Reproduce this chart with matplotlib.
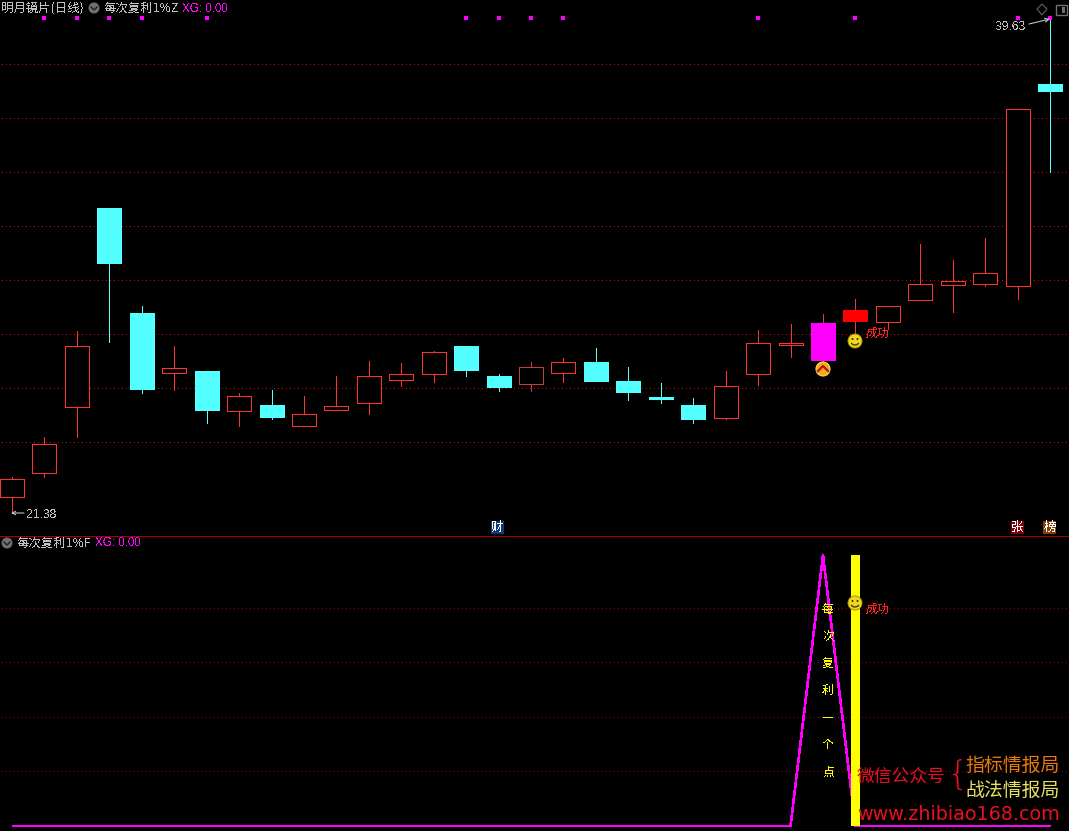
import matplotlib
matplotlib.use('Agg')
import matplotlib.pyplot as plt
import numpy as np
from matplotlib.patches import Rectangle, Circle, Arc, Polygon

plt.rcParams['font.family'] = ['Noto Sans CJK SC', 'DejaVu Sans']

W, H = 1069, 831
SPLIT = 535

# daily candles
opens = [21.97, 22.84, 25.30, 32.65, 28.77, 26.55, 26.63, 25.15, 25.37, 24.59, 25.18,
         25.44, 26.29, 26.51, 27.55, 26.44, 26.15, 26.55, 26.96, 26.26, 25.67, 25.37,
         24.89, 26.51, 27.59, 27.03, 28.47, 28.44, 29.25, 29.80, 29.84, 29.77, 37.23]
closes = [22.65, 23.93, 27.55, 30.62, 25.96, 26.74, 25.18, 25.70, 24.93, 25.04, 25.33,
          26.44, 26.51, 27.33, 26.66, 26.03, 26.77, 26.96, 26.26, 25.85, 25.59, 24.85,
          26.07, 27.66, 27.66, 28.40, 28.88, 29.03, 29.84, 29.95, 30.25, 36.30, 36.97]
highs = [22.71, 24.19, 28.10, 32.65, 29.03, 27.55, 26.63, 25.81, 25.92, 25.70, 26.44,
         26.99, 26.92, 27.36, 27.55, 26.51, 26.96, 27.11, 27.48, 26.77, 26.18, 25.63,
         26.63, 28.14, 28.36, 28.73, 29.29, 29.03, 31.32, 30.73, 31.54, 36.30, 39.63]
lows = [21.38, 22.71, 24.19, 27.70, 25.81, 25.92, 24.70, 24.59, 24.85, 24.59, 25.18,
        25.04, 26.07, 26.22, 26.44, 25.89, 25.89, 26.22, 26.26, 25.55, 25.44, 24.70,
        24.85, 26.11, 27.14, 26.99, 28.03, 28.18, 29.25, 28.80, 29.77, 29.29, 33.98]
dim_candles = [16]
magenta_candles = [25]
solid_red_candles = [26]

grid_prices = [23.97, 25.96, 27.96, 29.95, 31.94, 33.94, 35.93, 37.93]
signal_idx = [1, 2, 3, 4, 6, 14, 15, 16, 17, 23, 26, 31, 32]
signal_price = 39.65

# lower indicator
ind_x = [0, 24, 25, 26, 32]
ind_y = [0, 0, 5, 0, 0]
ind_grid = [1, 2, 3, 4]
bar_idx = 26
bar_val = 5
note_chars = list('每次复利一个点')
note_vals = [4, 3.5, 3, 2.5, 2, 1.5, 1]

RED = '#ff3232'
CYAN = '#54ffff'
MAG = '#ff00ff'
GRAY = '#c0c0c0'

fig = plt.figure(figsize=(W / 100, H / 100), dpi=100, facecolor='black')
ax = fig.add_axes([0, 1 - SPLIT / H, 1, SPLIT / H], facecolor='black')
ax2 = fig.add_axes([0, 0, 1, (H - SPLIT - 1) / H], facecolor='black')

xlim = (-12.0 / 32.44, (W - 12.0) / 32.44)
ax.set_xlim(*xlim)
ax.set_ylim(21.38 - 22 * 0.03694, 21.38 + 513 * 0.03694)
ax2.set_xlim(*xlim)
ax2.set_ylim(-5 / 54, 270 / 54 + 19 / 54)
for a in (ax, ax2):
    a.axis('off')

# dotted grid, one pixel every four
dot_x = np.arange(2, W, 4) / 32.44 + xlim[0]
for g in grid_prices:
    ax.plot(dot_x, [g] * len(dot_x), ',', color='#d80000', zorder=1)
for g in ind_grid:
    ax2.plot(dot_x, [g] * len(dot_x), ',', color='#a80000', zorder=1)

# candles
bw = 24 / 32.44
for i in range(len(opens)):
    o, c, hi, lo = opens[i], closes[i], highs[i], lows[i]
    top, bot = max(o, c), min(o, c)
    if i in magenta_candles:
        col, face = RED, MAG
        edge = MAG
    elif i in solid_red_candles:
        col, face = RED, '#ff0000'
        edge = '#ff0000'
    elif c >= o:
        col, face = RED, 'black'
        edge = RED
        if i in dim_candles:
            col = edge = '#c83c3c'
    else:
        col, face = CYAN, CYAN
        edge = CYAN
    ax.vlines(i, lo, hi, color=col, lw=0.7, zorder=2, antialiased=False)
    ax.add_patch(Rectangle((i - bw / 2, bot), bw, top - bot, facecolor=face, joinstyle='miter',
                           edgecolor=edge, lw=0.7, zorder=3, antialiased=False))

ax.scatter(signal_idx, [signal_price] * len(signal_idx), marker='s', s=5,
           color=MAG, linewidths=0, zorder=4, antialiased=False)


def smiley(a, px, py):
    # a little face drawn in a pixel overlay axes
    a.add_patch(Circle((px, py), 7, facecolor='#f0d820', edgecolor='#a89010', lw=0.7, zorder=6))
    a.add_patch(Circle((px - 2.5, py - 2), 1, facecolor='#403000', lw=0, zorder=7))
    a.add_patch(Circle((px + 2.5, py - 2), 1, facecolor='#403000', lw=0, zorder=7))
    a.add_patch(Arc((px, py + 0.5), 8, 7, theta1=20, theta2=160, color='#403000', lw=0.9, zorder=7))


def px_text(a, px, py, s, size, color, ha='left', aa=False, **kw):
    t = a.text(px, py, s, fontsize=size * 0.72, color=color, ha=ha, va='center', zorder=8, **kw)
    t.set_antialiased(aa)
    return t


# overlay in pixel coordinates for glyphs, header text and watermark
ov = fig.add_axes([0, 0, 1, 1], facecolor='none')
ov.set_xlim(0, W)
ov.set_ylim(H, 0)
ov.axis('off')

# yellow bar and line of lower panel
ax2.plot(ind_x, ind_y, color=MAG, lw=1.15, zorder=3, solid_joinstyle='miter', solid_capstyle='butt',
         antialiased=False)
ax2.bar([bar_idx], [bar_val], width=9 / 32.44, color='#ffff00', zorder=4, linewidth=0)
for ch, v in zip(note_chars, note_vals):
    ax2.text(24.97, v, ch, color='#ffff00', fontsize=8.4, ha='left', va='center', zorder=5,
             antialiased=False)

ov.plot([0, W], [535.5, 535.5], color='#a80000', lw=0.7, antialiased=False)
ov.plot([0, W], [830.5, 830.5], color='#ff0000', lw=0.7, antialiased=False)

smiley(ov, 855, 341)
smiley(ov, 855, 603)
px_text(ov, 866, 333.5, '成功', 12, '#ff2020')
px_text(ov, 866, 609, '成功', 12, '#ff2020')

# up arrow icon below the magenta candle
ov.add_patch(Circle((823, 369), 7, facecolor='#f8a818', edgecolor='#f0e060', lw=0.8, zorder=6))
ov.plot([818, 823, 828], [371, 366, 371], color='#b01818', lw=1.6, zorder=7)

# header lines
px_text(ov, 1, 8.5, '明月镜片(日线)', 12.4, GRAY)
px_text(ov, 104, 8.5, '每次复利1%Z', 12.4, GRAY)
px_text(ov, 182, 8.5, 'XG: 0.00', 11.6, MAG, family=['Liberation Sans'])
px_text(ov, 17, 543.5, '每次复利1%F', 12.4, GRAY)
px_text(ov, 95, 543.5, 'XG: 0.00', 11.6, MAG, family=['Liberation Sans'])
for cx, cy in [(94, 8), (7, 543)]:
    ov.add_patch(Circle((cx, cy), 5.5, facecolor='#707070', lw=0, zorder=6))
    ov.plot([cx - 3, cx, cx + 3], [cy - 1, cy + 2, cy - 1], color='#202020', lw=1.0, zorder=7)

# top right glyphs
ov.add_patch(Polygon([(1042, 4), (1047, 9), (1042, 15), (1037, 9)], closed=True,
                     facecolor='none', edgecolor='#606060', lw=0.8))
ov.add_patch(Rectangle((1056, 5), 10.5, 9.5, facecolor='none', edgecolor='#707070', lw=1.0))
ov.add_patch(Rectangle((1061.5, 6.5), 3.5, 6.5, facecolor='#707070', lw=0))

# min and max labels
px_text(ov, 26, 514.5, '21.38', 12, GRAY, family=['Liberation Sans'])
ov.annotate('', xy=(11, 513), xytext=(24, 513),
            arrowprops=dict(arrowstyle='->', color=GRAY, lw=0.8, mutation_scale=6, shrinkA=0, shrinkB=0))
px_text(ov, 996, 26.5, '39.63', 12, GRAY, family=['Liberation Sans'])
ov.annotate('', xy=(1050, 19), xytext=(1029, 24),
            arrowprops=dict(arrowstyle='->', color=GRAY, lw=0.8, mutation_scale=7, shrinkA=0, shrinkB=0))

# small tags above the separator
for cx, ch, bg in [(497, '财', '#0c3c78'), (1017.5, '张', '#800010'), (1049.5, '榜', '#804008')]:
    ov.add_patch(Rectangle((cx - 6.5, 521), 13, 13, facecolor=bg, lw=0, zorder=6))
    px_text(ov, cx, 527, ch, 12.5, 'white', ha='center')

# watermark
px_text(ov, 857, 777, '微信公众号', 17.8, '#e81020', aa=True)
px_text(ov, 946, 775, '{', 34, '#e81020', aa=True, family=['DejaVu Sans'], fontweight='ultralight')
px_text(ov, 965, 765, '指标情报局', 18.9, '#e87a08', aa=True)
px_text(ov, 965, 790, '战法情报局', 18.9, '#e8e060', aa=True)
px_text(ov, 857, 815, 'www.zhibiao168.com', 19.2, '#e81020', aa=True, family=['DejaVu Sans'])

fig.savefig('out.png', dpi=100, facecolor='black')
